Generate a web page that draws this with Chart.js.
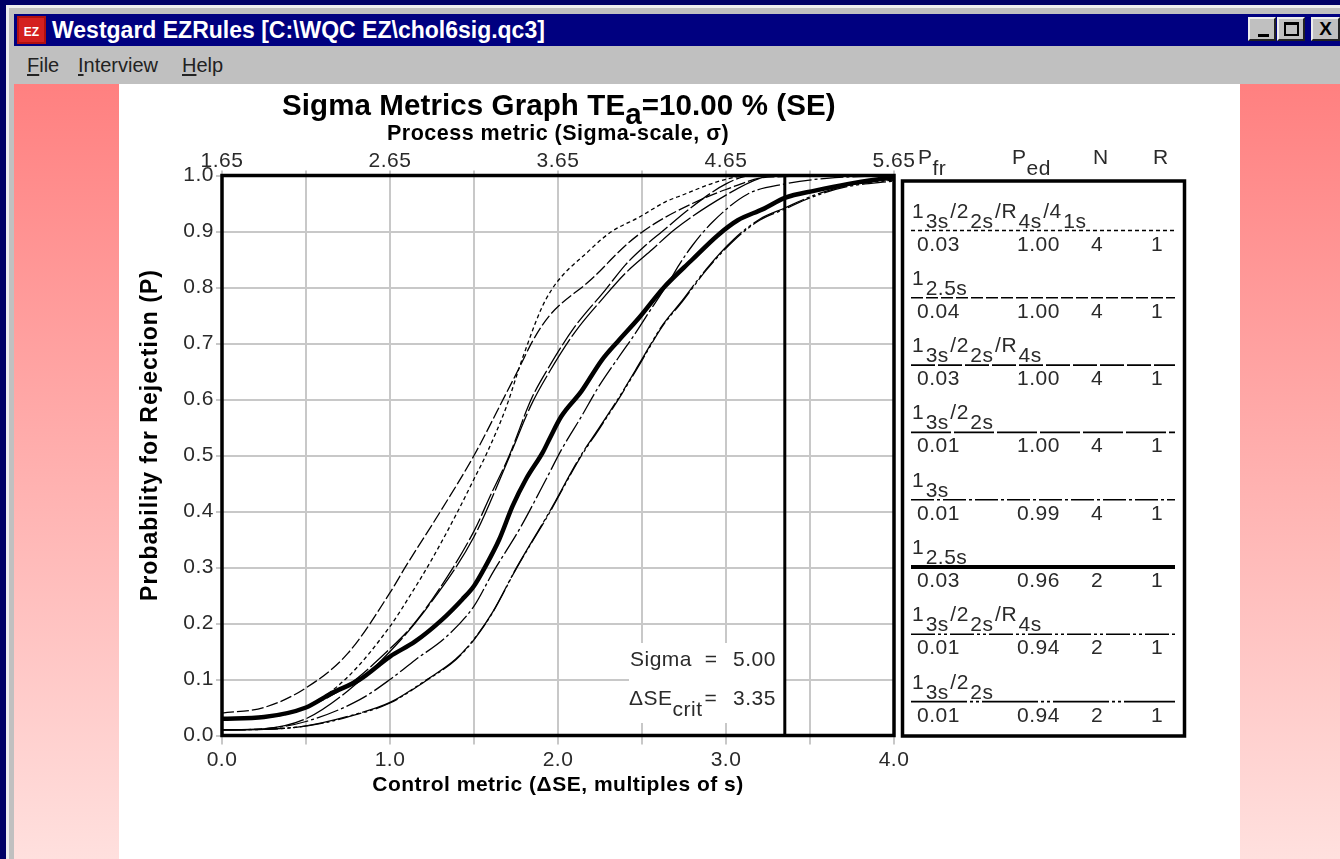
<!DOCTYPE html>
<html>
<head>
<meta charset="utf-8">
<title>Sigma Metrics Graph</title>
<script src="https://cdn.jsdelivr.net/npm/chart.js@4"></script>
<style>
	html, body { margin: 0; padding: 0; }
	body { width: 1340px; height: 859px; overflow: hidden; position: relative; background: #000066; font-family: "Liberation Sans", Arial, sans-serif; }
	.box { position: absolute; }
	#frame { left: 6px; top: 5px; width: 1334px; height: 854px; background: #c0c0c0; border-top: 3px solid #eeeeee; border-left: 3px solid #eeeeee; box-sizing: border-box; }
	#titlebar { left: 14px; top: 14px; width: 1326px; height: 32px; background: #000080; }
	#titletext { left: 52px; top: 16px; color: #fff; font-size: 23px; font-weight: bold; line-height: 28px; white-space: nowrap; }
	#icon { left: 17px; top: 16px; width: 29px; height: 28px; background: #d42020; color: #fff; font-size: 12px; font-weight: bold; line-height: 28px; text-align: center; box-sizing: border-box; border: 2px solid #b01010; }
	.menu { top: 52px; font-size: 20px; line-height: 26px; color: #222; }
	.menu u { text-underline-offset: 2px; }
	.winbtn { top: 17px; width: 28px; height: 24px; background: #c0c0c0; box-sizing: border-box; border: 2px solid; border-color: #eee #222 #222 #eee; }
	#sideL { left: 14px; top: 84px; width: 105px; height: 775px; background: linear-gradient(#ff8080, #ffe0de); }
	#sideR { left: 1240px; top: 84px; width: 100px; height: 775px; background: linear-gradient(#ff8080, #ffe0de); }
	#paper { left: 119px; top: 84px; width: 1121px; height: 775px; background: #fff; }
	#chartWrap { position: absolute; left: 0; top: 0; width: 1340px; height: 859px; }
</style>
</head>
<body>
<div class="box" id="frame"></div>
<div class="box" id="titlebar"></div>
<div class="box" id="icon">EZ</div>
<div class="box" id="titletext">Westgard EZRules [C:\WQC EZ\chol6sig.qc3]</div>
<div class="box menu" style="left:27px"><u>F</u>ile</div>
<div class="box menu" style="left:78px"><u>I</u>nterview</div>
<div class="box menu" style="left:182px"><u>H</u>elp</div>
<div class="box winbtn" style="left:1248px"><div class="box" style="left:8px;top:15px;width:11px;height:3px;background:#000"></div></div>
<div class="box winbtn" style="left:1277px"><div class="box" style="left:5px;top:3px;width:15px;height:14px;border:2px solid #000;border-top-width:3px;box-sizing:border-box"></div></div>
<div class="box winbtn" style="left:1311px;width:29px;font-size:19px;font-weight:bold;line-height:20px;text-align:center">X</div>
<div class="box" id="sideL"></div>
<div class="box" id="sideR"></div>
<div class="box" id="paper"></div>
<div id="chartWrap"><canvas id="sigmaChart" width="1340" height="859"></canvas></div>

<script>
// curves as [control metric, probability]
const curve1 = [[0, .03], [.25, .032], [.5, .05], [.75, .105], [1, .195], [1.13, .255], [1.25, .315], [1.41, .404], [1.5, .458], [1.57, .5], [1.69, .585], [1.79, .675], [1.93, .78], [2.2, .87], [2.32, .9], [2.48, .925], [2.64, .953], [2.74, .965], [2.94, .988], [3.08, .998], [3.3, 1], [4, 1]];
const curve2 = [[0, .04], [.25, .05], [.5, .085], [.75, .147], [1, .255], [1.1, .305], [1.3, .4], [1.5, .5], [1.69, .61], [1.77, .657], [1.85, .705], [1.95, .75], [2.2, .815], [2.42, .88], [2.58, .915], [2.8, .95], [3, .975], [3.25, .997], [4, 1]];
const curve3 = [[0, .03], [.25, .032], [.5, .05], [.75, .09], [1, .155], [1.13, .195], [1.29, .26], [1.5, .365], [1.6, .43], [1.71, .5], [1.84, .6], [1.95, .66], [2.1, .73], [2.28, .795], [2.4, .84], [2.52, .875], [2.62, .9], [2.78, .94], [3, .985], [3.15, 1], [4, 1]];
const curve4 = [[0, .01], [.25, .012], [.5, .03], [.75, .08], [1, .15], [1.2, .22], [1.5, .355], [1.7, .49], [1.84, .59], [1.95, .65], [2.1, .72], [2.28, .785], [2.4, .825], [2.55, .865], [2.7, .905], [3, .965], [3.2, .995], [3.3, 1], [4, 1]];
const curve5 = [[0, .01], [.25, .012], [.5, .025], [.82, .064], [1, .1], [1.15, .135], [1.33, .175], [1.5, .231], [1.61, .29], [1.77, .368], [1.93, .458], [2.02, .51], [2.14, .57], [2.24, .622], [2.36, .675], [2.46, .718], [2.54, .755], [2.66, .81], [2.72, .84], [2.8, .875], [2.92, .917], [3.13, .967], [3.35, .985], [3.6, .995], [4, 1]];
const curve6 = [[0, .03], [.25, .033], [.5, .05], [.65, .075], [.82, .1], [1, .141], [1.15, .168], [1.31, .207], [1.43, .243], [1.5, .267], [1.57, .303], [1.65, .35], [1.73, .41], [1.81, .458], [1.91, .506], [1.95, .53], [2.02, .57], [2.14, .615], [2.26, .67], [2.36, .705], [2.48, .745], [2.63, .8], [2.8, .85], [2.95, .893], [3.07, .92], [3.22, .94], [3.35, .96], [3.53, .973], [3.73, .985], [4, .997]];
const curve7 = [[0, .01], [.25, .011], [.45, .015], [.6, .022], [.76, .034], [1, .058], [1.21, .097], [1.39, .135], [1.5, .171], [1.61, .219], [1.75, .297], [1.95, .398], [2.14, .5], [2.24, .545], [2.38, .61], [2.5, .67], [2.62, .73], [2.74, .775], [2.88, .83], [3.05, .885], [3.2, .92], [3.35, .94], [3.5, .96], [3.72, .98], [4, .99]];
const curve8 = [[0, .01], [.25, .011], [.45, .015], [.6, .023], [.76, .035], [1, .059], [1.21, .098], [1.39, .136], [1.5, .172], [1.61, .22], [1.75, .298], [1.95, .4], [2.14, .502], [2.24, .547], [2.38, .612], [2.5, .672], [2.62, .732], [2.74, .777], [2.88, .832], [3.05, .887], [3.2, .922], [3.35, .942], [3.5, .962], [3.72, .982], [4, .992]];
const critLine = [[3.35, 0], [3.35, 1]];

const curves = [curve1, curve2, curve3, curve4, curve5, curve6, curve7, curve8];
const curveDash = [[4, 3], [12, 3], [24, 3], [40, 3], [23, 3, 3, 3], [], [24, 3, 3, 3, 3, 3], [56, 3, 3, 3, 3, 3]];
const curveWidth = [1.3, 1.3, 1.3, 1.3, 1.3, 4.5, 1.3, 1.3];

// legend table
const ruleLabels = [
	['1', '3s', '/2', '2s', '/R', '4s', '/4', '1s'],
	['1', '2.5s'],
	['1', '3s', '/2', '2s', '/R', '4s'],
	['1', '3s', '/2', '2s'],
	['1', '3s'],
	['1', '2.5s'],
	['1', '3s', '/2', '2s', '/R', '4s'],
	['1', '3s', '/2', '2s']
];
const pfrValues = ['0.03', '0.04', '0.03', '0.01', '0.01', '0.03', '0.01', '0.01'];
const pedValues = ['1.00', '1.00', '1.00', '1.00', '0.99', '0.96', '0.94', '0.94'];
const nValues = ['4', '4', '4', '4', '4', '2', '2', '2'];
const rValues = ['1', '1', '1', '1', '1', '1', '1', '1'];

const controlTicks = [0, .5, 1, 1.5, 2, 2.5, 3, 3.5, 4];
const processTicks = [1.65, 2.15, 2.65, 3.15, 3.65, 4.15, 4.65, 5.15, 5.65];

const SANS = '"Liberation Sans", Arial, sans-serif';
const GRID = '#c8c8c8';
const TEXT = '#2a2a2a';
const SPACING = '0.5px';

// text made of pieces that sit on two baselines, returns the end x
function drawPieces(c, pieces, x, y, font) {
	pieces.forEach(p => {
		c.font = p.font || font;
		c.fillText(p.text, x, y + (p.dy || 0));
		x += c.measureText(p.text).width + (p.gap || 0);
	});
	return x;
}

const sheetPlugin = {
	id: 'sheet',
	beforeDraw(chart) {
		// the old screen font runs wider than Liberation
		chart.ctx.letterSpacing = SPACING;
	},
	beforeDatasetsDraw(chart) {
		// note box over the grid
		const c = chart.ctx;
		c.save();
		c.fillStyle = '#fff';
		c.fillRect(629, 643, 155, 80);
		c.restore();
	},
	afterDatasetsDraw(chart) {
		const c = chart.ctx, a = chart.chartArea;
		c.save();
		c.strokeStyle = '#000';
		c.lineWidth = 3.5;
		c.strokeRect(a.left, a.top, a.right - a.left, a.bottom - a.top);
		c.restore();
	},
	afterDraw(chart) {
		const c = chart.ctx;
		c.save();
		c.textBaseline = 'alphabetic';
		c.textAlign = 'left';

		// chart title
		c.fillStyle = '#000';
		c.letterSpacing = '0.1px';
		drawPieces(c, [
			{ text: 'Sigma Metrics Graph TE' },
			{ text: 'a', dy: 9 },
			{ text: '=10.00 % (SE)' }
		], 282, 115, 'bold 29.5px ' + SANS);

		// y axis title
		c.save();
		c.translate(157, 435);
		c.rotate(-Math.PI / 2);
		c.textAlign = 'center';
		c.letterSpacing = '1px';
		c.font = 'bold 23px ' + SANS;
		c.fillText('Probability for Rejection (P)', 0, 0);
		c.restore();
		c.letterSpacing = SPACING;

		// sigma note
		c.fillStyle = TEXT;
		c.font = '21px ' + SANS;
		c.fillText('Sigma  =', 630, 666);
		c.fillText('5.00', 733, 666);
		drawPieces(c, [
			{ text: '\u0394SE' },
			{ text: 'crit', dy: 11, gap: 2 },
			{ text: '=' }
		], 629, 705, '21px ' + SANS);
		c.fillText('3.35', 733, 705);

		// legend header
		c.font = '21px ' + SANS;
		drawPieces(c, [{ text: 'P' }, { text: 'fr', dy: 11 }], 918, 164, '21px ' + SANS);
		drawPieces(c, [{ text: 'P' }, { text: 'ed', dy: 11 }], 1012, 164, '21px ' + SANS);
		c.fillText('N', 1093, 164);
		c.fillText('R', 1153, 164);

		// legend box
		c.strokeStyle = '#000';
		c.lineWidth = 3.5;
		c.strokeRect(902.5, 181, 282, 555);

		ruleLabels.forEach((parts, i) => {
			const lineY = 230.5 + i * 67.3;
			// the rule name, odd pieces are subscripts
			c.fillStyle = TEXT;
			let x = 912;
			parts.forEach((t, k) => {
				c.font = '21px ' + SANS;
				c.fillText(t, x, k % 2 ? lineY - 3 : lineY - 13);
				x += c.measureText(t).width + 1.5;
			});
			// sample of the line
			c.strokeStyle = '#000';
			c.lineWidth = curveWidth[i] > 2 ? 4 : 1.6;
			c.setLineDash(curveDash[i]);
			c.beginPath();
			c.moveTo(911, lineY);
			c.lineTo(1175, lineY);
			c.stroke();
			c.setLineDash([]);
			// the numbers under it
			c.fillStyle = TEXT;
			c.font = '21px ' + SANS;
			c.fillText(pfrValues[i], 917, lineY + 20);
			c.fillText(pedValues[i], 1017, lineY + 20);
			c.fillText(nValues[i], 1091, lineY + 20);
			c.fillText(rValues[i], 1151, lineY + 20);
		});
		c.restore();
	}
};

new Chart(document.getElementById('sigmaChart'), {
	type: 'line',
	data: {
		datasets: curves.map((pts, i) => ({
			data: pts.map(p => ({ x: p[0], y: p[1] })),
			borderColor: '#000',
			borderWidth: curveWidth[i],
			borderDash: curveDash[i],
			pointRadius: 0,
			cubicInterpolationMode: 'monotone',
			fill: false
		})).concat([{
			data: critLine.map(p => ({ x: p[0], y: p[1] })),
			borderColor: '#000',
			borderWidth: 3,
			pointRadius: 0,
			fill: false
		}])
	},
	options: {
		responsive: false,
		animation: false,
		parsing: false,
		layout: { padding: { left: 135, right: 446, top: 121, bottom: 61.5 } },
		plugins: { legend: { display: false }, tooltip: { enabled: false } },
		scales: {
			x: {
				type: 'linear',
				position: 'bottom',
				min: 0,
				max: 4,
				afterFit: s => { s.height = 62; },
				afterBuildTicks: s => { s.ticks = controlTicks.map(v => ({ value: v })); },
				grid: { color: GRID, lineWidth: 2, tickLength: 9 },
				border: { display: false },
				title: {
					display: true,
					text: 'Control metric (\u0394SE, multiples of s)',
					color: '#000',
					font: { family: SANS, size: 21, weight: 'bold' },
					padding: 0
				},
				ticks: {
					color: TEXT,
					autoSkip: false,
					maxRotation: 0,
					padding: 3,
					font: { family: SANS, size: 21 },
					callback: v => (v % 1 ? '' : v.toFixed(1))
				}
			},
			x2: {
				type: 'linear',
				position: 'top',
				min: 1.65,
				max: 5.65,
				afterFit: s => { s.height = 54.5; },
				afterBuildTicks: s => { s.ticks = processTicks.map(v => ({ value: v })); },
				grid: { color: GRID, lineWidth: 2, tickLength: 5, drawOnChartArea: false },
				border: { display: false },
				title: {
					display: true,
					text: 'Process metric (Sigma-scale, \u03c3)',
					color: '#000',
					font: { family: SANS, size: 21.5, weight: 'bold' },
					padding: 0
				},
				ticks: {
					color: TEXT,
					autoSkip: false,
					maxRotation: 0,
					padding: -3,
					font: { family: SANS, size: 21 },
					callback: (v, i) => (i % 2 ? '' : v.toFixed(2))
				}
			},
			y: {
				min: 0,
				max: 1,
				afterFit: s => { s.width = 87; },
				grid: { color: GRID, lineWidth: 2, tickLength: 6 },
				border: { display: false },
				ticks: {
					color: TEXT,
					stepSize: 0.1,
					padding: 2,
					font: { family: SANS, size: 21 },
					callback: v => v.toFixed(1)
				}
			}
		}
	},
	plugins: [sheetPlugin]
});
</script>
</body>
</html>
